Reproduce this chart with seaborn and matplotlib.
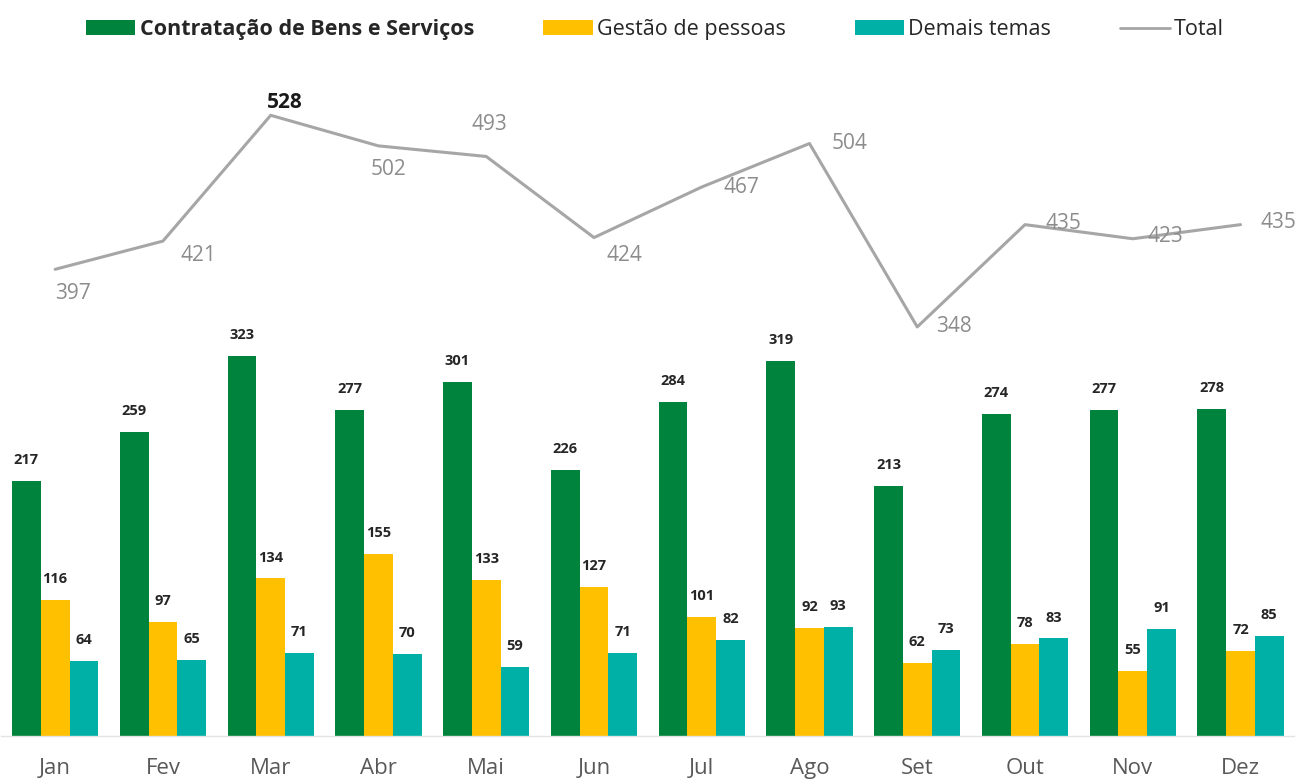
import numpy as np
import pandas as pd
import matplotlib
matplotlib.use("Agg")
import matplotlib.pyplot as plt
from matplotlib import font_manager
from matplotlib.patches import Patch
from matplotlib.lines import Line2D
import seaborn as sns

# Monthly counts by theme
months = ["Jan", "Fev", "Mar", "Abr", "Mai", "Jun", "Jul", "Ago", "Set", "Out", "Nov", "Dez"]
contratacao = [217, 259, 323, 277, 301, 226, 284, 319, 213, 274, 277, 278]
gestao = [116, 97, 134, 155, 133, 127, 101, 92, 62, 78, 55, 72]
demais = [64, 65, 71, 70, 59, 71, 82, 93, 73, 83, 91, 85]
total = [397, 421, 528, 502, 493, 424, 467, 504, 348, 435, 423, 435]

series_names = ["Contratação de Bens e Serviços", "Gestão de pessoas", "Demais temas"]
colors = {"Contratação de Bens e Serviços": "#00843D",
          "Gestão de pessoas": "#FFC000",
          "Demais temas": "#00B0A6"}

sns.set_theme(style="white")
available = {f.name for f in font_manager.fontManager.ttflist}
base_font = "Liberation Sans Narrow" if "Liberation Sans Narrow" in available else "Open Sans"
plt.rcParams["font.family"] = [base_font, "DejaVu Sans"]

df = pd.DataFrame({
    "Mês": months * 3,
    "Tema": [series_names[0]] * 12 + [series_names[1]] * 12 + [series_names[2]] * 12,
    "Qtd": contratacao + gestao + demais,
})

fig = plt.figure(figsize=(12.97, 7.8), dpi=100)
ax = fig.add_axes([0.001, 0.0564, 0.997, 0.844])

sns.barplot(data=df, x="Mês", y="Qtd", hue="Tema", order=months,
            hue_order=series_names, palette=colors, width=0.8,
            saturation=1, linewidth=0, legend=False, ax=ax)

for cont in ax.containers:
    ax.bar_label(cont, padding=10, fontsize=10.5, fontweight="bold", color="#262626")

# Total line over the month positions
sns.lineplot(x=np.arange(len(months)), y=total, color="#A6A6A6", linewidth=2.2,
             ax=ax, legend=False)

# Offsets (pixels) for the total labels
offsets = [(18, -24), (36, -14), (14, 13), (10, -24), (3, 32), (30, -18),
           (40, 0), (40, 0), (37, 0), (38, 1), (33, 2), (38, 2)]
peak = int(np.argmax(total))
for i, (v, off) in enumerate(zip(total, offsets)):
    bold = i == peak
    ax.annotate(str(v), (i, v), xytext=off, textcoords="offset pixels",
                ha="center", va="center", fontsize=15,
                color="#1a1a1a" if bold else "#8C8C8C",
                fontweight="bold" if bold else "normal")

ax.set_ylim(0, 560)
ax.set_xlim(-0.5, len(months) - 0.5)
ax.set_xlabel("")
ax.set_ylabel("")
ax.set_yticks([])
ax.tick_params(axis="x", length=0, labelsize=16, labelcolor="#595959", pad=16)
for side in ["top", "left", "right"]:
    ax.spines[side].set_visible(False)
ax.spines["bottom"].set_color("#E3E3E3")
ax.spines["bottom"].set_linewidth(1)

handles = [Patch(facecolor=colors[n], edgecolor="none") for n in series_names]
handles.append(Line2D([0], [0], color="#A6A6A6", linewidth=2))
leg = fig.legend(handles, series_names + ["Total"], loc="upper center",
                 bbox_to_anchor=(0.505, 1.0), ncol=4, frameon=False, fontsize=15.5,
                 handlelength=2.3, handleheight=0.7, handletextpad=0.2,
                 columnspacing=3.2, labelcolor="#262626")
leg.get_texts()[0].set_fontweight("bold")

fig.savefig("out.png", dpi=100)
